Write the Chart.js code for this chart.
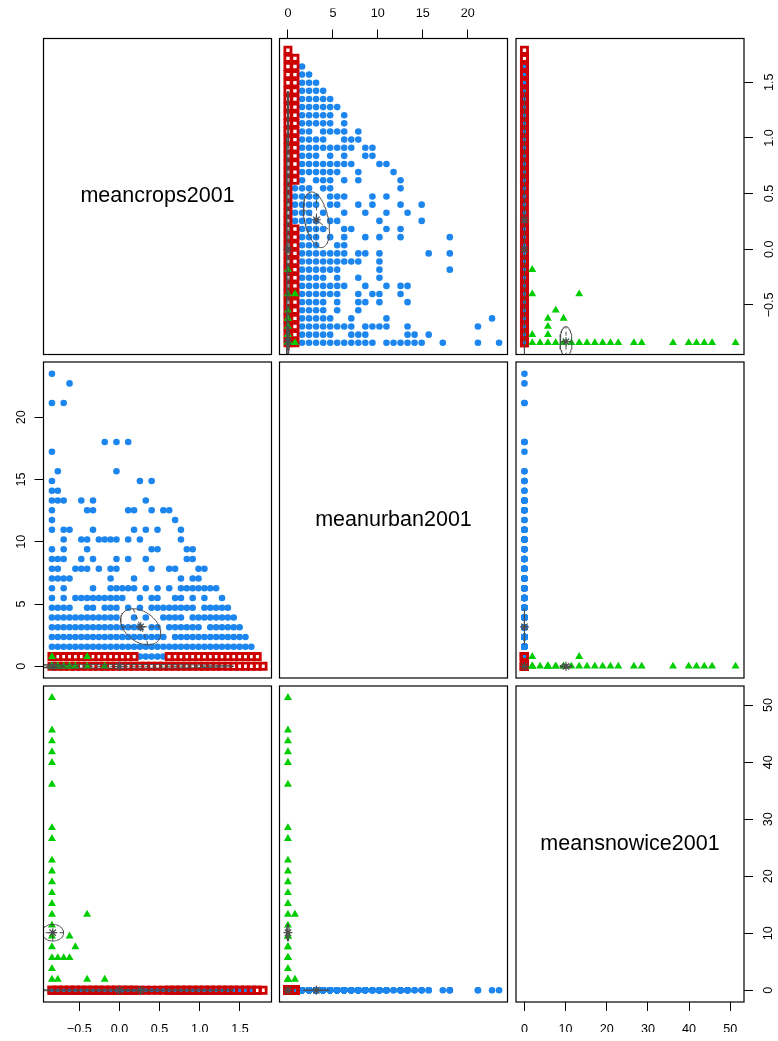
<!DOCTYPE html>
<html>
<head>
<meta charset="utf-8">
<script src="https://cdn.jsdelivr.net/npm/chart.js@4.4.1/dist/chart.umd.min.js"></script>
<style>
  html, body { margin: 0; padding: 0; background: #fff; }
  #wrap { position: relative; width: 778px; height: 1041px; }
  #wrap canvas { position: absolute; left: 0; top: 0; }
</style>
</head>
<body>
<div id="wrap"></div>
<script>
// variables, in panel order (diagonal labels)
var varNames = ["meancrops2001", "meanurban2001", "meansnowice2001"];

// each variable only takes a handful of distinct values
var cropsLevels = [-0.840, -0.767, -0.694, -0.621, -0.548, -0.475, -0.402, -0.329, -0.256, -0.183,
  -0.110, -0.037, 0.036, 0.109, 0.182, 0.255, 0.328, 0.401, 0.474, 0.547, 0.620, 0.693, 0.766,
  0.839, 0.912, 0.985, 1.058, 1.131, 1.204, 1.277, 1.350, 1.423, 1.496, 1.569, 1.642, 1.715, 1.788];
var urbanLevels = [0, 0.78, 1.57, 2.35, 3.13, 3.92, 4.70, 5.48, 6.26, 7.05, 7.83, 8.61, 9.40, 10.18,
  10.96, 11.75, 12.53, 13.31, 14.09, 14.88, 15.66, 16.44, 17.23, 18.01, 18.79, 19.58, 20.36, 21.14,
  21.92, 22.71, 23.49];
var snowLevels = [0, 1.9, 3.8, 5.7, 7.6, 9.5, 11.4, 13.3, 15.2, 17.1, 19.0, 20.9, 22.8, 24.7, 26.6,
  28.5, 30.4, 32.3, 34.2, 36.1, 38.0, 39.9, 41.8, 43.7, 45.6, 47.5, 49.4, 51.3];

// tick values
var cropsTicks = [-0.5, 0, 0.5, 1, 1.5];
var urbanTicks = [0, 5, 10, 15, 20];
var snowTicks = [0, 10, 20, 30, 40, 50];

// class 1 (blue): urban level indices found at each crops level, snowice = 0
var blueUrbanAtCrops = [
  [2,3,4,5,6,7,8,9,10,11,12,14,15,16,17,18,19,22,27,30],
  [2,3,4,5,6,9,10,11,17,18,20],
  [2,3,4,5,6,7,8,9,11,12,13,14,17,27],
  [2,3,4,5,6,9,14,29],
  [2,3,4,5,7,10],
  [2,3,4,5,7,10,11,13,17],
  [2,3,4,5,6,7,10,12,13,16],
  [2,3,4,5,6,7,8,11,14,16,17],
  [2,3,4,5,7,10,13],
  [2,3,4,5,6,7,13,23],
  [2,3,4,5,6,7,8,9,10,13],
  [2,3,4,5,6,7,8,10,11,13,20,23],
  [2,3,4,7,8],
  [2,3,4,6,8,11,13,16,23],
  [2,3,4,5,8,9,14,16],
  [1,2,3,4,6,7,13,19],
  [1,2,3,5,8,11,14,17],
  [1,2,3,4,6,7,10,12,16,19],
  [1,2,3,4,6,7,8,12,14],
  [1,2,3,5,6,16],
  [2,4,5,6,8,10,16],
  [2,3,4,5,6,7,10,15],
  [2,3,4,5,6,7,8,9,13,14],
  [2,3,4,6,8,11,12],
  [2,3,4,5,6,7,8,9,11,12],
  [2,3,4,5,8,9,10],
  [2,3,5,6,7,8,10],
  [2,3,4,5,6,8],
  [2,3,4,5,6,8],
  [2,3,4,5,6,7],
  [2,3,4,5,6],
  [2,3,4,5],
  [2,3,4],
  [2,3],
  [2],
  [],
  []
];

// class 2 (red): crops level indices at urban level 0 and 1, snowice = 0
var redCropsAtUrban0 = [0,1,2,3,4,5,6,7,8,9,10,11,12,13,14,15,16,17,18,19,20,21,22,23,24,25,26,27,28,29,30,31,32,33,34,35,36];
var redCropsAtUrban1 = [0,1,2,3,4,5,6,7,8,9,10,11,12,13,14,20,21,22,23,24,25,26,27,28,29,30,31,32,33,34,35];

// class 3 (green): [crops level, urban level, snowice level]
var greenPoints = [[0,0,27],[0,0,24],[0,0,23],[0,0,22],[0,0,21],[0,0,19],[0,0,15],[0,0,14],
  [0,0,12],[0,0,11],[0,0,10],[0,0,9],[0,0,8],[0,0,7],[6,1,7],[0,0,6],[0,0,5],[3,0,5],[0,0,4],
  [4,0,4],[0,0,3],[1,0,3],[2,0,3],[3,0,3],[0,0,2],[0,1,1],[1,0,1],[6,0,1],[9,0,1]];

// mixture components (crops, urban, snowice): means, sd's, crops-urban correlation
var compMeans = [[0.265, 3.17, 0], [0.0, 0.0, 0.0], [-0.83, 0.0, 10.1]];
var compSds = [[0.25, 1.45, 0.05], [1.42, 0.15, 0.1], [0.135, 0.15, 1.46]];
var compCorr = [-0.37, 0, 0];

var BLUE = '#1C86EE', RED = '#CD0000', GREEN = '#00CD00', GREY = '#4D4D4D';
var W = 778, H = 1041;
var colX = [43.5, 279.5, 516], colW = 228;
var rowY = [38.5, 362, 686], rowH = 316;
var AX = 30;

Chart.defaults.font.family = '"Liberation Sans", Arial, Helvetica, sans-serif';

// points as [crops, urban, snowice]
var blue = [], red = [], green = [];
blueUrbanAtCrops.forEach(function (row, c) {
  row.forEach(function (u) { blue.push([cropsLevels[c], urbanLevels[u], snowLevels[0]]); });
});
redCropsAtUrban0.forEach(function (c) { red.push([cropsLevels[c], urbanLevels[0], snowLevels[0]]); });
redCropsAtUrban1.forEach(function (c) { red.push([cropsLevels[c], urbanLevels[1], snowLevels[0]]); });
greenPoints.forEach(function (p) { green.push([cropsLevels[p[0]], urbanLevels[p[1]], snowLevels[p[2]]]); });

// pairs() style ranges: data range stretched by 4%
var allPts = blue.concat(red, green);
var ranges = [0, 1, 2].map(function (k) {
  var vals = allPts.map(function (p) { return p[k]; });
  var lo = Math.min.apply(null, vals), hi = Math.max.apply(null, vals);
  var ext = 0.04 * (hi - lo);
  return [lo - ext, hi + ext];
});
var tickVals = [cropsTicks, urbanTicks, snowTicks];

function fmt(v, val) {
  var s = v === 0 ? val.toFixed(1) : String(val);
  return s.replace('-', '\u2212');
}

function tickPad(pos, v) {
  if (pos === 'top') return 8.6;
  if (pos === 'bottom') return 10.7;
  if (pos === 'left') return 5.5;
  return v === 0 ? 3.6 : 8.3;
}

function scaleOpts(v, pos, horizontal) {
  var shown = !!pos;
  return {
    type: 'linear',
    display: shown,
    position: pos || (horizontal ? 'bottom' : 'left'),
    bounds: 'data',
    min: ranges[v][0],
    max: ranges[v][1],
    afterBuildTicks: function (s) {
      s.ticks = tickVals[v].map(function (t) { return {value: t}; });
    },
    afterFit: function (s) {
      if (!shown) return;
      if (horizontal) s.height = AX; else s.width = AX;
    },
    grid: {drawOnChartArea: false, drawTicks: true, tickLength: 9, tickColor: '#000', tickWidth: 1, color: '#000'},
    border: {display: false},
    ticks: {
      autoSkip: false,
      color: '#000',
      font: {size: 12.6},
      padding: tickPad(pos, v),
      minRotation: horizontal ? 0 : 90,
      maxRotation: horizontal ? 0 : 90,
      crossAlign: horizontal ? 'near' : 'center',
      callback: function (val) { return fmt(v, val); }
    }
  };
}

// 2d covariance -> 1 sd ellipse with its two axes
function ellipse(m, cxx, cyy, cxy) {
  var tr = cxx + cyy, det = cxx * cyy - cxy * cxy;
  var disc = Math.sqrt(Math.max(tr * tr / 4 - det, 0));
  var l1 = tr / 2 + disc, l2 = tr / 2 - disc;
  var vx, vy;
  if (Math.abs(cxy) > 1e-12) { vx = l1 - cyy; vy = cxy; }
  else if (cxx >= cyy) { vx = 1; vy = 0; }
  else { vx = 0; vy = 1; }
  var n = Math.sqrt(vx * vx + vy * vy); vx /= n; vy /= n;
  var s1 = Math.sqrt(l1), s2 = Math.sqrt(Math.max(l2, 0));
  var outline = [];
  for (var k = 0; k <= 72; k++) {
    var t = 2 * Math.PI * k / 72;
    var a = s1 * Math.cos(t), b = s2 * Math.sin(t);
    outline.push({x: m[0] + a * vx - b * vy, y: m[1] + a * vy + b * vx});
  }
  return {
    outline: outline,
    major: [{x: m[0] - s1 * vx, y: m[1] - s1 * vy}, {x: m[0] + s1 * vx, y: m[1] + s1 * vy}],
    minor: [{x: m[0] + s2 * vy, y: m[1] - s2 * vx}, {x: m[0] - s2 * vy, y: m[1] + s2 * vx}]
  };
}

function lineDs(data, dash) {
  return {data: data, showLine: true, pointRadius: 0, borderColor: GREY, borderWidth: 1,
    borderDash: dash, fill: false, tension: 0, clip: 0, order: 2};
}

function panelDatasets(xv, yv) {
  function proj(list) { return list.map(function (p) { return {x: p[xv], y: p[yv]}; }); }
  var ds = [
    {data: proj(blue), pointStyle: 'circle', pointRadius: 3.3, backgroundColor: BLUE, borderWidth: 0, order: 6},
    {data: proj(red), pointStyle: 'rect', pointRadius: 4.35, backgroundColor: 'rgba(0,0,0,0)',
      borderColor: RED, borderWidth: 2.8, order: 5},
    {data: proj(green), pointStyle: 'triangle', pointRadius: 4.6, backgroundColor: GREEN, borderWidth: 0, order: 4}
  ];
  compMeans.forEach(function (m, k) {
    var sx = compSds[k][xv], sy = compSds[k][yv];
    var rho = (xv + yv === 1) ? compCorr[k] : 0;
    var e = ellipse([m[xv], m[yv]], sx * sx, sy * sy, rho * sx * sy);
    ds.push(lineDs(e.outline, []), lineDs(e.major, [4, 3]), lineDs(e.minor, [4, 3]));
    ds.push({data: [{x: m[xv], y: m[yv]}], pointStyle: 'star', pointRadius: 4.5,
      borderColor: GREY, backgroundColor: GREY, borderWidth: 1.2, order: 1});
  });
  return ds;
}

// box round every panel + variable name on the diagonal
var panelBox = {
  id: 'panelBox',
  afterDraw: function (chart, args, opts) {
    var a = chart.chartArea, ctx = chart.ctx;
    ctx.save();
    ctx.strokeStyle = '#000';
    ctx.lineWidth = 1.2;
    ctx.strokeRect(a.left, a.top, a.right - a.left, a.bottom - a.top);
    if (opts.label) {
      ctx.fillStyle = '#000';
      ctx.font = '21.5px "Liberation Sans", Arial, sans-serif';
      ctx.textAlign = 'center';
      ctx.textBaseline = 'middle';
      ctx.fillText(opts.label, (a.left + a.right) / 2, (a.top + a.bottom) / 2);
    }
    ctx.restore();
  }
};

// which panel carries which outer axis
var axisSides = {
  '0,1': {x: 'top'},
  '0,2': {y: 'right'},
  '1,0': {y: 'left'},
  '2,0': {x: 'bottom'},
  '2,2': {x: 'bottom', y: 'right'}
};

var wrap = document.getElementById('wrap');

function makePanel(r, c) {
  var cv = document.createElement('canvas');
  cv.width = W; cv.height = H;
  wrap.appendChild(cv);
  var sides = axisSides[r + ',' + c] || {};
  var pad = {
    left: colX[c] - (sides.y === 'left' ? AX : 0),
    right: W - colX[c] - colW - (sides.y === 'right' ? AX : 0),
    top: rowY[r] - (sides.x === 'top' ? AX : 0),
    bottom: H - rowY[r] - rowH - (sides.x === 'bottom' ? AX : 0)
  };
  new Chart(cv, {
    type: 'scatter',
    data: {datasets: r === c ? [] : panelDatasets(c, r)},
    options: {
      responsive: false,
      animation: false,
      events: [],
      layout: {padding: pad},
      plugins: {
        legend: {display: false},
        tooltip: {enabled: false},
        panelBox: {label: r === c ? varNames[r] : ''}
      },
      scales: {
        x: scaleOpts(c, sides.x, true),
        y: scaleOpts(r, sides.y, false)
      }
    },
    plugins: [panelBox]
  });
}

for (var r = 0; r < 3; r++) {
  for (var c = 0; c < 3; c++) makePanel(r, c);
}
</script>
</body>
</html>
